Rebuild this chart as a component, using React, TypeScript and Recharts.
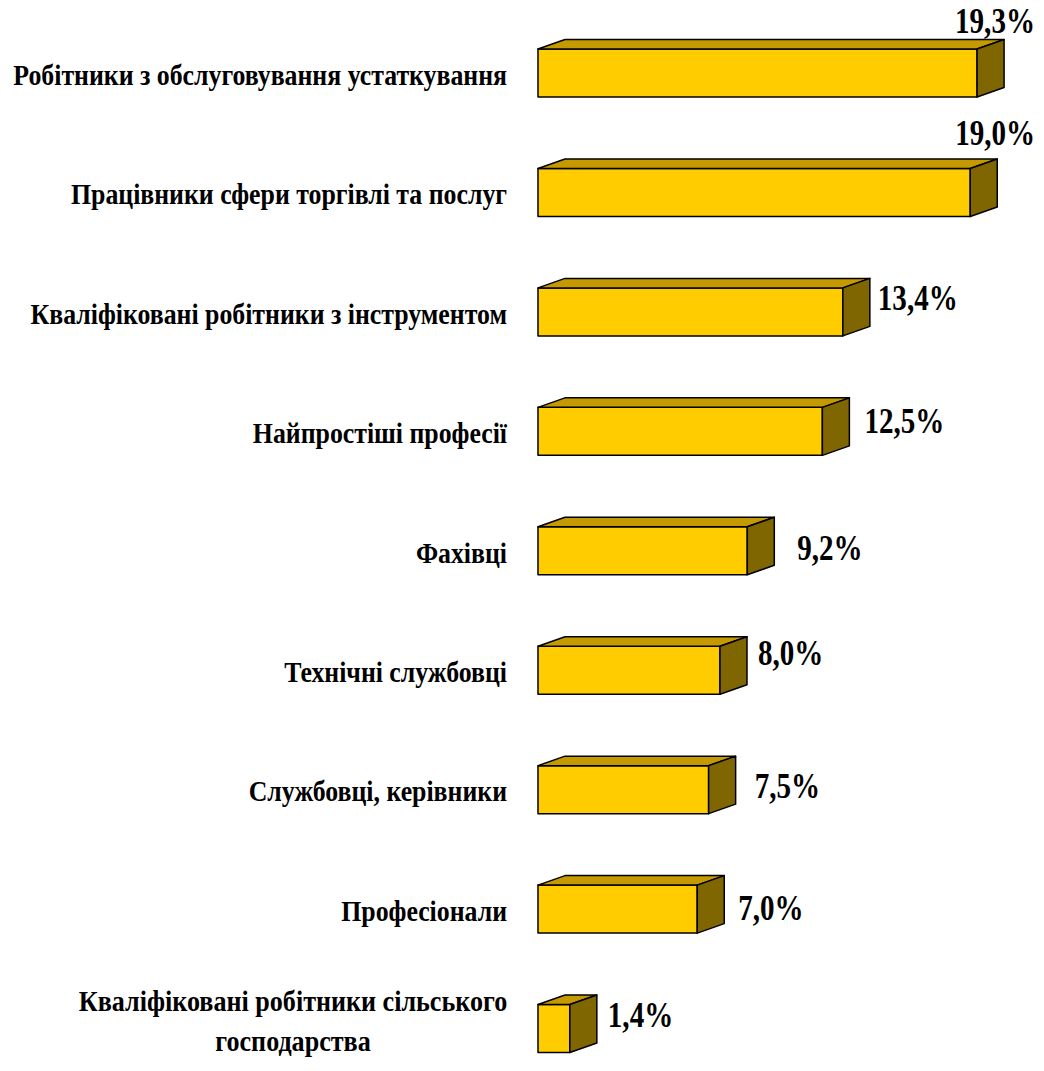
import { BarChart, Bar, XAxis, YAxis, LabelList } from 'recharts'

const categories = [
  'Робітники з обслуговування устаткування',
  'Працівники сфери торгівлі та послуг',
  'Кваліфіковані робітники з інструментом',
  'Найпростіші професії',
  'Фахівці',
  'Технічні службовці',
  'Службовці, керівники',
  'Професіонали',
  'Кваліфіковані робітники сільського господарства',
]
const shares = [19.3, 19.0, 13.4, 12.5, 9.2, 8.0, 7.5, 7.0, 1.4]

// hand-placed label offsets from the original (dx from bar side, dy from bar centre)
const labelNudge: [number, number][] = [
  [-49, -52], [-42, -59], [8, -14], [15, -10], [23, -3], [11, -17], [19, -4], [14, -1], [11, -14],
]

const data = categories.map((name, i) => ({ name, value: shares[i] }))

const DX = 27
const DY = 9.5
const FONT = '"Liberation Serif", "Times New Roman", serif'

function Box3D(props: any) {
  const { x, y, width, height } = props
  const r = x + width
  const b = y + height
  return (
    <g stroke="#000" strokeWidth={1.5} strokeLinejoin="round">
      <rect x={x} y={y} width={width} height={height} fill="#FFCC00" />
      <polygon points={`${x},${y} ${x + DX},${y - DY} ${r + DX},${y - DY} ${r},${y}`} fill="#C49A00" />
      <polygon points={`${r},${y} ${r + DX},${y - DY} ${r + DX},${b - DY} ${r},${b}`} fill="#806600" />
    </g>
  )
}

function ValueLabel(props: any) {
  const { x, y, width, height, value, index } = props
  const [nx, ny] = labelNudge[index] || [12, 0]
  const lx = x + width + DX + nx
  const ly = y + height / 2 + ny + 12
  return (
    <text
      transform={`translate(${lx},${ly}) scale(0.83,1)`}
      fontFamily={FONT}
      fontWeight="bold"
      fontSize={35}
      fill="#000"
    >
      {Number(value).toFixed(1).replace('.', ',') + '%'}
    </text>
  )
}

function CategoryTick(props: any) {
  const { x, y, payload } = props
  const text: string = payload.value
  let lines = [text]
  if (text.length > 40) {
    const cut = text.lastIndexOf(' ')
    lines = [text.slice(0, cut), text.slice(cut + 1)]
  }
  const tx = x - 31
  if (lines.length === 1) {
    return (
      <text
        transform={`translate(${tx},${y + 12}) scale(0.89,1)`}
        textAnchor="end"
        fontFamily={FONT}
        fontWeight="bold"
        fontSize={29}
        fill="#000"
      >
        {text}
      </text>
    )
  }
  return (
    <g>
      {lines.map((ln, i) => (
        <text
          key={i}
          transform={`translate(${tx - 214},${y - 17.5 + i * 40}) scale(0.9,1)`}
          textAnchor="middle"
          fontFamily={FONT}
          fontWeight="bold"
          fontSize={29}
          fill="#000"
        >
          {ln}
        </text>
      ))}
    </g>
  )
}

export default function App() {
  return (
    <div style={{ width: 1028, height: 1063, marginTop: -8, overflow: 'hidden', background: '#fff' }}>
      <BarChart
        width={1028}
        height={1088}
        data={data}
        layout="vertical"
        margin={{ top: 13, right: 43, bottom: 0, left: 0 }}
      >
        <XAxis type="number" domain={[0, 20]} hide />
        <YAxis
          type="category"
          dataKey="name"
          width={530}
          axisLine={false}
          tickLine={false}
          tickSize={0}
          tickMargin={0}
          interval={0}
          tick={<CategoryTick />}
        />
        <Bar dataKey="value" barSize={48} shape={<Box3D />} isAnimationActive={false}>
          <LabelList dataKey="value" content={<ValueLabel />} />
        </Bar>
      </BarChart>
    </div>
  )
}
